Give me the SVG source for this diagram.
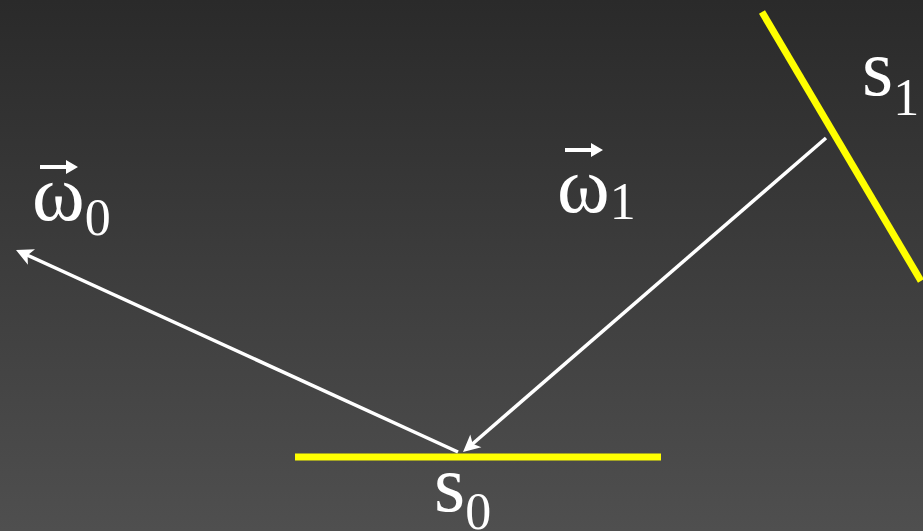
<svg xmlns="http://www.w3.org/2000/svg" width="923" height="531" viewBox="0 0 923 531">
<defs>
<linearGradient id="bg" x1="0" y1="0" x2="0" y2="1">
<stop offset="0" stop-color="#2a2a2a"/>
<stop offset="1" stop-color="#4f4f4f"/>
</linearGradient>
</defs>
<rect width="923" height="531" fill="url(#bg)"/>
<g id="surface-s0">
<line stroke="#ffff00" stroke-width="7" x1="295" y1="457" x2="661" y2="457"/>
</g>
<g id="surface-s1">
<line stroke="#ffff00" stroke-width="7" x1="762" y1="12" x2="921" y2="281"/>
</g>
<g id="vector-marks">
<path d="M40,165 H66 V160 L78,167 L66,174 V169 H40 Z" fill="#ffffff"/>
<path d="M565,148 H591 V143 L603,150 L591,157 V152 H565 Z" fill="#ffffff"/>
</g>
<text x="434" y="511" font-size="80" fill="#fff" font-family="Liberation Serif">s<tspan font-size="52" dy="18">0</tspan></text>
<text x="862" y="95" font-size="80" fill="#fff" font-family="Liberation Serif">s<tspan font-size="52" dy="20">1</tspan></text>
<text x="32" y="220" font-size="80" fill="#fff" font-family="Liberation Serif">ω<tspan font-size="52" dy="15">0</tspan></text>
<text x="557" y="212" font-size="80" fill="#fff" font-family="Liberation Serif">ω<tspan font-size="52" dy="7">1</tspan></text>
<g id="connectors">
<line stroke="#ffffff" stroke-width="3.5" x1="826" y1="138" x2="472.1" y2="444.2"/>
<polygon fill="#ffffff" points="463,452 481.4,447.3 472.6,443.7 470.3,434.4"/>
<line stroke="#ffffff" stroke-width="3.5" x1="458" y1="452" x2="26.9" y2="255"/>
<polygon fill="#ffffff" points="16,250 35,249.3 27.6,255.3 27.9,264.8"/>
</g>
</svg>
